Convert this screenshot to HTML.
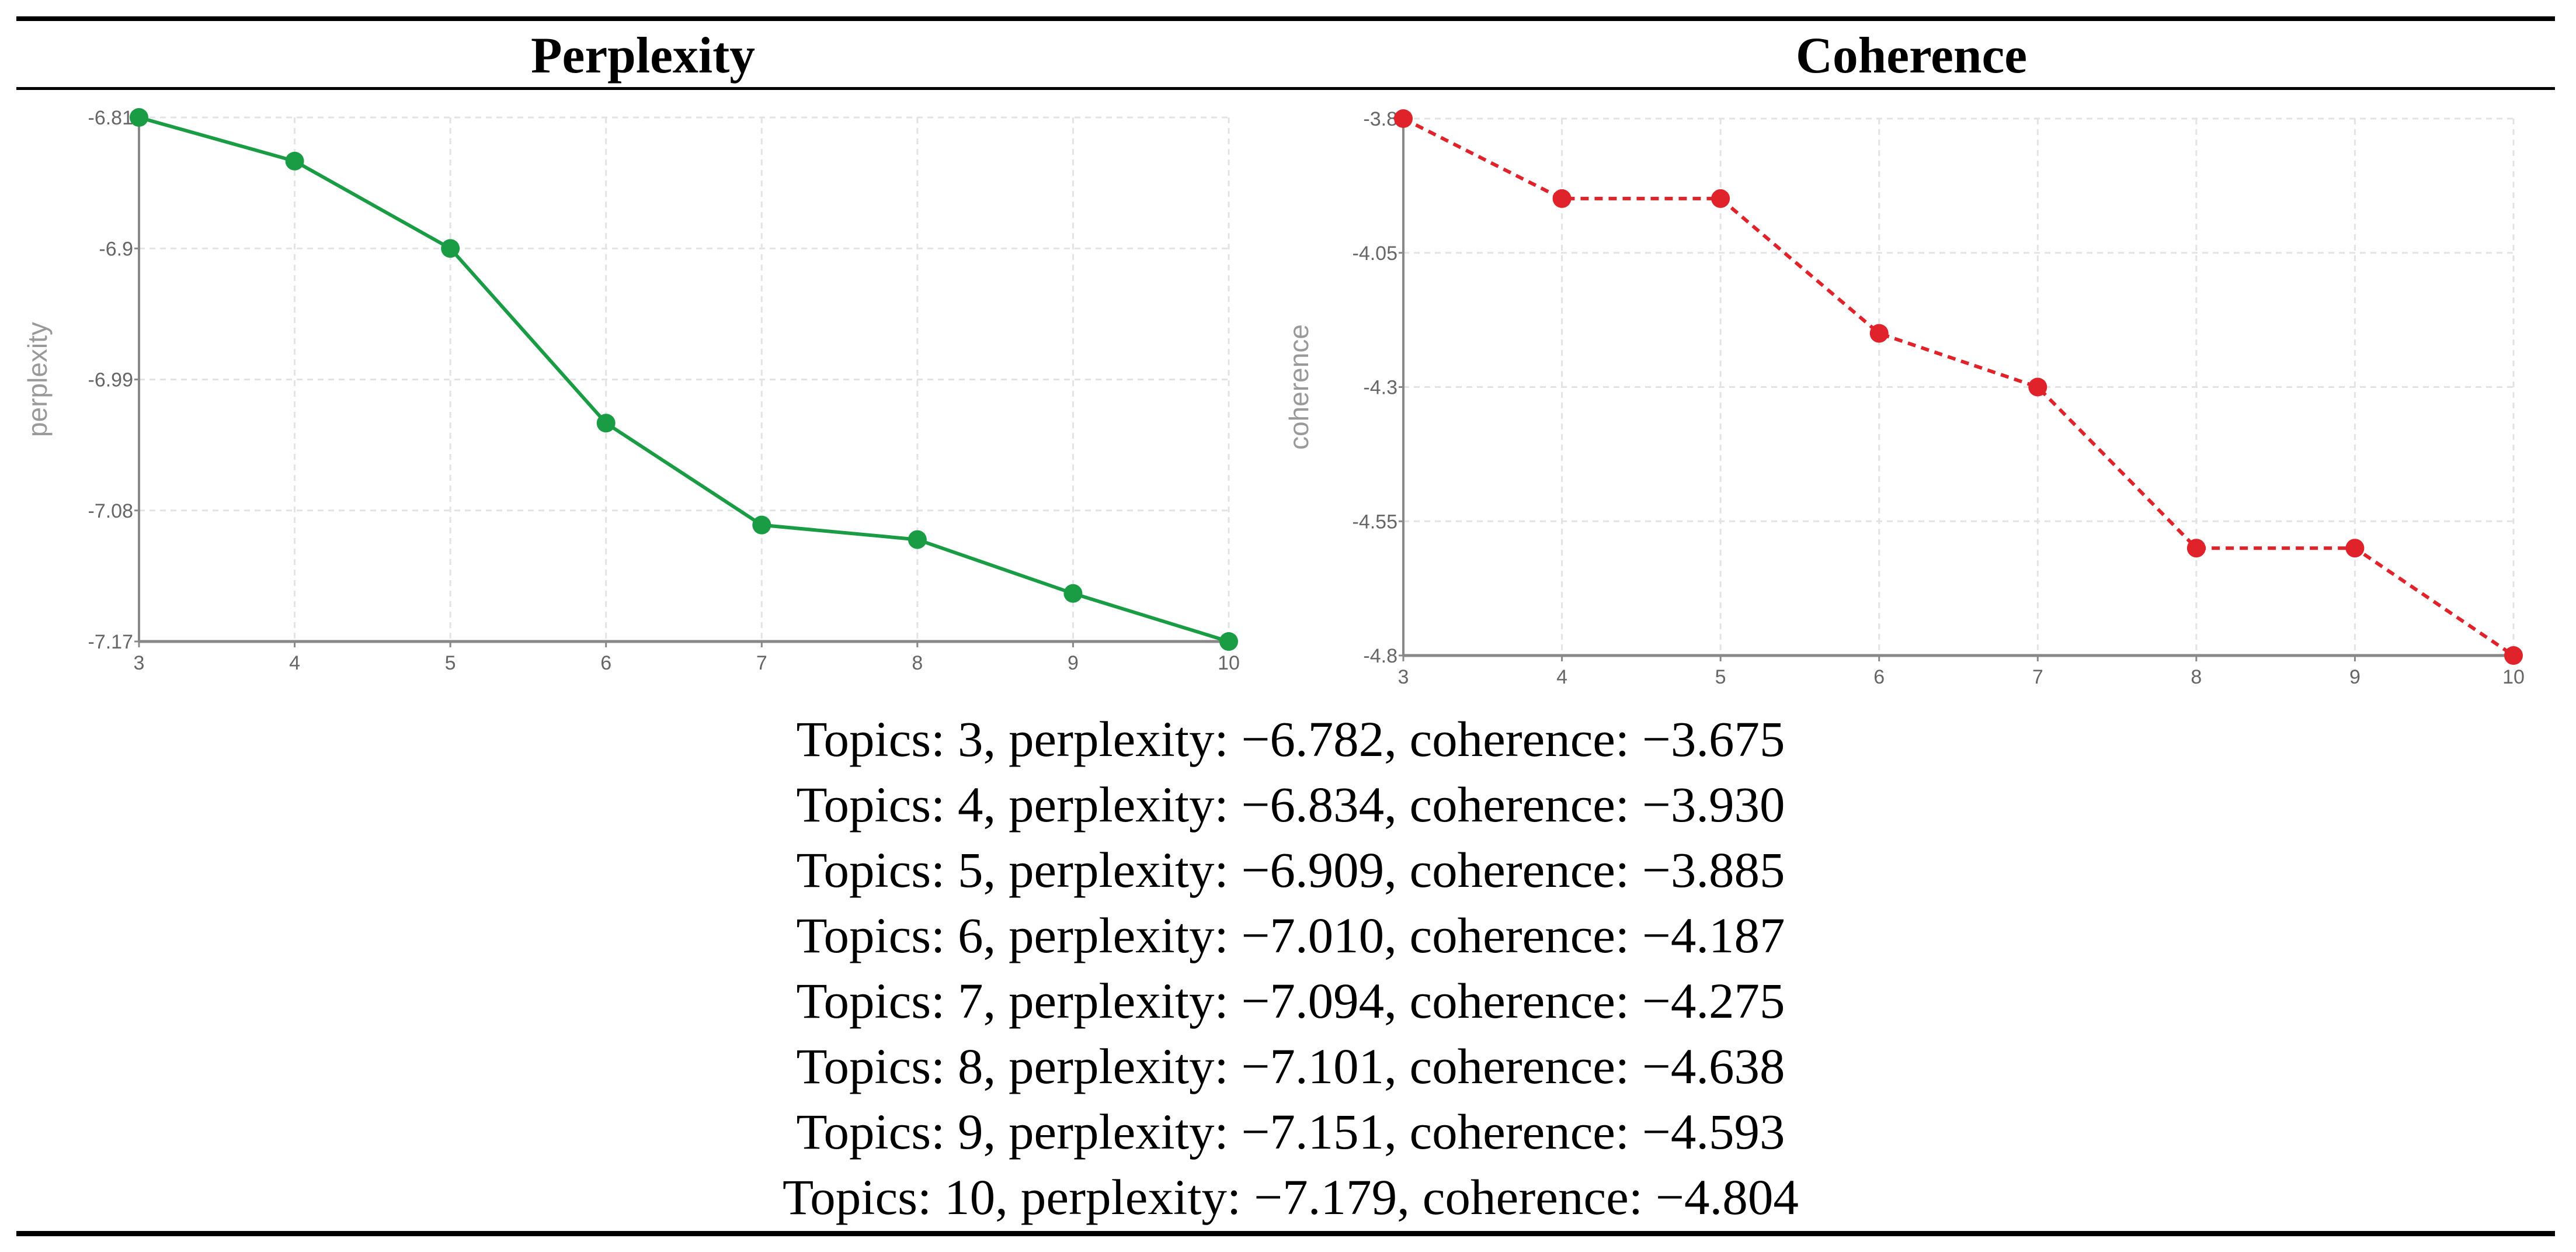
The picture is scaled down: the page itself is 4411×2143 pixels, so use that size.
<!DOCTYPE html>
<html><head><meta charset="utf-8"><style>
html,body{margin:0;padding:0;background:#fff;}
svg{display:block;}
</style></head><body>
<svg id="fig" xmlns="http://www.w3.org/2000/svg" width="4411" height="2143" viewBox="0 0 4411 2143">
<rect x="0" y="0" width="4411" height="2143" fill="#fff"/>
<rect x="28" y="28" width="4347" height="8" fill="#000"/>
<rect x="28" y="149" width="4347" height="5" fill="#000"/>
<rect x="28" y="2107" width="4347" height="9" fill="#000"/>
<text x="1101" y="124" text-anchor="middle" font-family="Liberation Serif, serif" font-weight="bold" font-size="88" textLength="384" lengthAdjust="spacingAndGlyphs">Perplexity</text>
<text x="3273" y="124" text-anchor="middle" font-family="Liberation Serif, serif" font-weight="bold" font-size="88" textLength="396" lengthAdjust="spacingAndGlyphs">Coherence</text>
<g id="left"></g>
<g id="right"></g>
<g id="table" font-family="Liberation Serif, serif" font-size="86" fill="#000" text-anchor="middle">
<text x="2210" y="1294" textLength="1693" lengthAdjust="spacingAndGlyphs">Topics: 3, perplexity: −6.782, coherence: −3.675</text>
<text x="2210" y="1406" textLength="1693" lengthAdjust="spacingAndGlyphs">Topics: 4, perplexity: −6.834, coherence: −3.930</text>
<text x="2210" y="1518" textLength="1693" lengthAdjust="spacingAndGlyphs">Topics: 5, perplexity: −6.909, coherence: −3.885</text>
<text x="2210" y="1630" textLength="1693" lengthAdjust="spacingAndGlyphs">Topics: 6, perplexity: −7.010, coherence: −4.187</text>
<text x="2210" y="1742" textLength="1693" lengthAdjust="spacingAndGlyphs">Topics: 7, perplexity: −7.094, coherence: −4.275</text>
<text x="2210" y="1854" textLength="1693" lengthAdjust="spacingAndGlyphs">Topics: 8, perplexity: −7.101, coherence: −4.638</text>
<text x="2210" y="1966" textLength="1693" lengthAdjust="spacingAndGlyphs">Topics: 9, perplexity: −7.151, coherence: −4.593</text>
<text x="2210" y="2078" textLength="1740" lengthAdjust="spacingAndGlyphs">Topics: 10, perplexity: −7.179, coherence: −4.804</text>
</g>
</svg>
<script>
const topics = [3,4,5,6,7,8,9,10];
const perplexityValues = [-6.81,-6.84,-6.90,-7.02,-7.09,-7.10,-7.137,-7.17];
const perplexityTicks = [-6.81,-6.9,-6.99,-7.08,-7.17];
const coherenceValues = [-3.8,-3.949,-3.949,-4.2,-4.3,-4.6,-4.6,-4.8];
const coherenceTicks = [-3.8,-4.05,-4.3,-4.55,-4.8];

const NS = "http://www.w3.org/2000/svg";
function mk(tag, attrs, parent){
  const e = document.createElementNS(NS, tag);
  for (const k in attrs) e.setAttribute(k, attrs[k]);
  parent.appendChild(e);
  return e;
}
function drawChart(g, cfg){
  const xs = v => cfg.x0 + (v - topics[0]) / (topics[topics.length-1] - topics[0]) * (cfg.x1 - cfg.x0);
  const tmax = cfg.ticks[0], tmin = cfg.ticks[cfg.ticks.length-1];
  const ys = v => cfg.y0 + (tmax - v) / (tmax - tmin) * (cfg.y1 - cfg.y0);
  cfg.ticks.forEach(t => {
    const l = mk('line', {x1:cfg.x0, x2:cfg.x1, y1:ys(t), y2:ys(t), stroke:'#e3e3e3', 'stroke-width':3, 'stroke-dasharray':'10 8'}, g);
    
    
    const tk = mk('line', {x1:cfg.x0-8, x2:cfg.x0, y1:ys(t), y2:ys(t), stroke:'#888', 'stroke-width':3}, g);
    
    
    const tx = mk('text', {x:cfg.x0-10, y:ys(t)+12, 'text-anchor':'end', 'font-family':'Liberation Sans Narrow, Liberation Sans, sans-serif', 'font-size':34, fill:'#666'}, g);
    tx.textContent = String(t);
    
    
  });
  topics.forEach(t => {
    const l = mk('line', {x1:xs(t), x2:xs(t), y1:cfg.y0, y2:cfg.y1, stroke:'#e3e3e3', 'stroke-width':3, 'stroke-dasharray':'10 8'}, g);
    
    
    const tk = mk('line', {x1:xs(t), x2:xs(t), y1:cfg.y1, y2:cfg.y1+10, stroke:'#888', 'stroke-width':3}, g);
    
    
    const tx = mk('text', {x:xs(t), y:cfg.y1+48, 'text-anchor':'middle', 'font-family':'Liberation Sans Narrow, Liberation Sans, sans-serif', 'font-size':34, fill:'#666'}, g);
    tx.textContent = String(t);
    
    
  });
  const ya = mk('line', {x1:cfg.x0, x2:cfg.x0, y1:cfg.y0, y2:cfg.y1, stroke:'#888', 'stroke-width':4}, g);
  
  
  const xa = mk('line', {x1:cfg.x0, x2:cfg.x1, y1:cfg.y1, y2:cfg.y1, stroke:'#888', 'stroke-width':5}, g);
  
  
  const at = mk('text', {x:0, y:0, transform:`translate(${cfg.tx},${(cfg.y0+cfg.y1)/2}) rotate(-90)`, 'text-anchor':'middle', 'font-family':'Liberation Sans, sans-serif', 'font-size':46, fill:'#999'}, g);
  at.textContent = cfg.title;
  
  
  const pts = cfg.values.map((v,i) => xs(topics[i]) + ',' + ys(v)).join(' ');
  const pl = mk('polyline', {points:pts, fill:'none', stroke:cfg.color, 'stroke-width':6, 'stroke-dasharray':cfg.dash||'none'}, g);
  
  
  cfg.values.forEach((v,i) => {
    const c = mk('circle', {cx:xs(topics[i]), cy:ys(v), r:16, fill:cfg.color}, g);
    
    
  });
}
drawChart(document.getElementById('left'), {x0:238, x1:2104, y0:201, y1:1098, ticks:perplexityTicks, values:perplexityValues, color:'#1a9c44', title:'perplexity', tx:80});
drawChart(document.getElementById('right'), {x0:2403, x1:4304, y0:203, y1:1122, ticks:coherenceTicks, values:coherenceValues, color:'#e0222a', dash:'14 10', title:'coherence', tx:2240});
</script>
</body></html>
